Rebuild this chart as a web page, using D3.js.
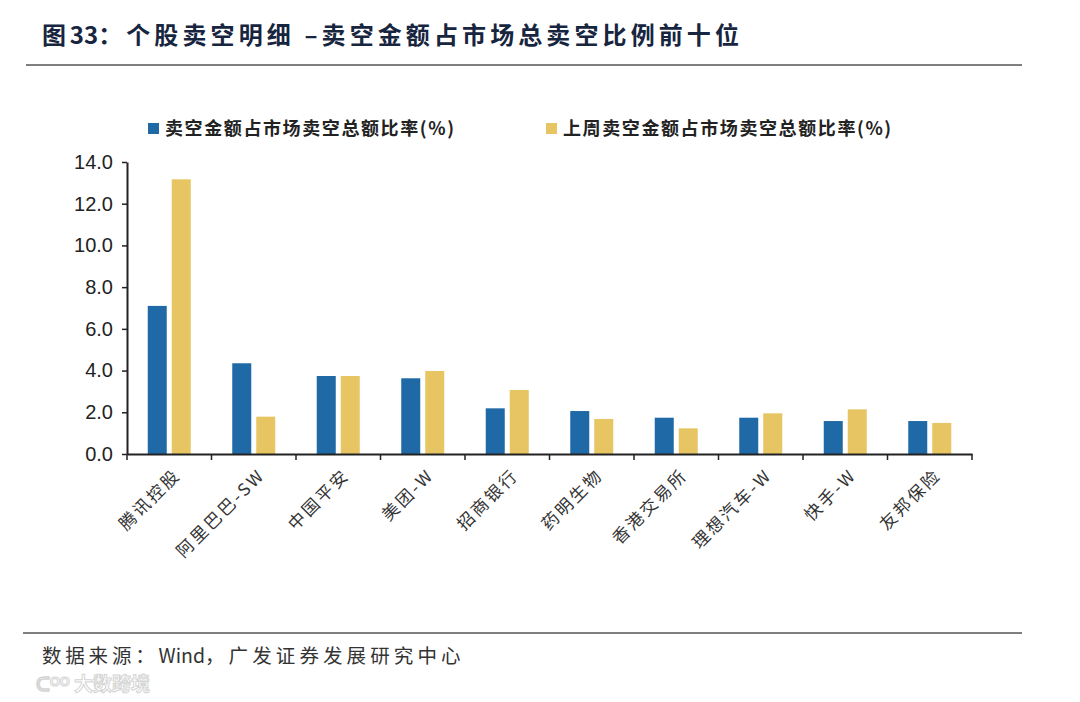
<!DOCTYPE html>
<html>
<head>
<meta charset="utf-8">
<script src="https://cdn.jsdelivr.net/npm/d3@7"></script>
<style>
	body { margin: 0; background: #fff; }
	svg { display: block; }
</style>
</head>
<body>
<div id="chart"></div>
<script>
// Chart data
const categories = ["腾讯控股", "阿里巴巴-SW", "中国平安", "美团-W", "招商银行", "药明生物", "香港交易所", "理想汽车-W", "快手-W", "友邦保险"];
const thisWeek = [7.1, 4.35, 3.74, 3.63, 2.19, 2.06, 1.74, 1.74, 1.58, 1.58];
const lastWeek = [13.17, 1.79, 3.74, 3.98, 3.07, 1.68, 1.23, 1.95, 2.14, 1.49];
const seriesNames = ["卖空金额占市场卖空总额比率(%)", "上周卖空金额占市场卖空总额比率(%)"];
const yTicks = [0, 2, 4, 6, 8, 10, 12, 14];

const width = 1080, height = 702;
const colors = ["#1f69a6", "#e6c562"];
const cjk = "'Noto Sans CJK SC', sans-serif";

const svg = d3.select("#chart").append("svg")
	.attr("width", width)
	.attr("height", height);

// Title and rules (latin runs kept tight, CJK runs spaced out)
const title = svg.append("text")
	.attr("x", 42).attr("y", 44)
	.style("font-family", cjk)
	.style("font-size", "24px")
	.style("font-weight", "bold")
	.attr("fill", "#17253f");
[["图", "3.8px"], ["33", "0px"], ["：个股卖空明细 –卖空金额占市场总卖空比例前十位", "4.1px"]].forEach(([t, ls]) => {
	title.append("tspan").style("letter-spacing", ls).text(t);
});

svg.append("line")
	.attr("x1", 26).attr("x2", 1022).attr("y1", 65).attr("y2", 65)
	.attr("stroke", "#555").attr("stroke-width", 1.5);

svg.append("line")
	.attr("x1", 23).attr("x2", 1022).attr("y1", 633).attr("y2", 633)
	.attr("stroke", "#555").attr("stroke-width", 1.5);

const source = svg.append("text")
	.attr("x", 42).attr("y", 663)
	.style("font-family", cjk)
	.style("font-size", "19.5px")
	.attr("fill", "#333");
[["数据来源：", "3.8px"], ["Wind", "0px"], ["，广发证券发展研究中心", "4.1px"]].forEach(([t, ls]) => {
	source.append("tspan").style("letter-spacing", ls).text(t);
});

// watermark
svg.append("text")
	.attr("x", 36).attr("y", 691)
	.style("font-family", cjk)
	.style("font-size", "19px")
	.style("font-weight", "bold")
	.attr("fill", "#fff")
	.attr("stroke", "#d4d4d4")
	.attr("stroke-width", 1)
	.text("ᑕᴼᴼ 大数跨境");

// Scales
const plot = { left: 127, right: 972, top: 162, bottom: 454 };

const x = d3.scaleBand()
	.domain(categories)
	.range([plot.left, plot.right]);

const y = d3.scaleLinear()
	.domain([0, 14])
	.range([plot.bottom, plot.top]);

const barW = 19;
const offsets = [-12, 12];

// Bars
[thisWeek, lastWeek].forEach((vals, s) => {
	svg.append("g")
		.selectAll("rect")
		.data(vals)
		.join("rect")
		.attr("x", (d, i) => x(categories[i]) + x.bandwidth() / 2 + offsets[s] - barW / 2)
		.attr("y", d => y(d))
		.attr("width", barW)
		.attr("height", d => y(0) - y(d))
		.attr("fill", colors[s]);
});

// Y axis
const yAxis = svg.append("g")
	.attr("transform", `translate(${plot.left},0)`)
	.call(d3.axisLeft(y).tickValues(yTicks).tickFormat(d3.format(".1f")).tickSize(5).tickSizeOuter(0));
yAxis.select(".domain").attr("stroke", "#222").attr("stroke-width", 2);
yAxis.selectAll(".tick line").attr("stroke", "#222").attr("stroke-width", 1.5);
yAxis.selectAll(".tick text")
	.attr("x", -14)
	.style("font-family", "Arial, 'Liberation Sans', sans-serif")
	.style("font-size", "20px")
	.attr("fill", "#222");

// X axis
const xAxis = svg.append("g")
	.attr("transform", `translate(0,${plot.bottom})`)
	.call(d3.axisBottom(x).tickSize(0).tickSizeOuter(0).tickFormat(""));
xAxis.select(".domain").attr("stroke", "#222").attr("stroke-width", 2);

// tick marks between categories
svg.append("g")
	.selectAll("line")
	.data(d3.range(categories.length + 1))
	.join("line")
	.attr("x1", i => plot.left + i * x.step())
	.attr("x2", i => plot.left + i * x.step())
	.attr("y1", plot.bottom)
	.attr("y2", plot.bottom + 6)
	.attr("stroke", "#222")
	.attr("stroke-width", 1.5);

// rotated category labels
svg.append("g")
	.selectAll("text")
	.data(categories)
	.join("text")
	.attr("transform", d => `translate(${x(d) + x.bandwidth() / 2 + 8},${plot.bottom + 18}) rotate(-45)`)
	.attr("text-anchor", "end")
	.attr("dy", "0.35em")
	.style("font-family", cjk)
	.style("font-size", "17px")
	.style("letter-spacing", "2.5px")
	.attr("fill", "#333")
	.text(d => d);

// Legend
const legendX = [148, 546];
const legend = svg.append("g");
seriesNames.forEach((name, i) => {
	legend.append("rect")
		.attr("x", legendX[i]).attr("y", 123)
		.attr("width", 11).attr("height", 11)
		.attr("fill", colors[i]);
	legend.append("text")
		.attr("x", legendX[i] + 17).attr("y", 129)
		.attr("dy", "0.35em")
		.style("font-family", cjk)
		.style("font-size", "18px")
		.style("font-weight", "bold")
		.style("letter-spacing", "1.6px")
		.attr("fill", "#222")
		.text(name);
});
</script>
</body>
</html>
